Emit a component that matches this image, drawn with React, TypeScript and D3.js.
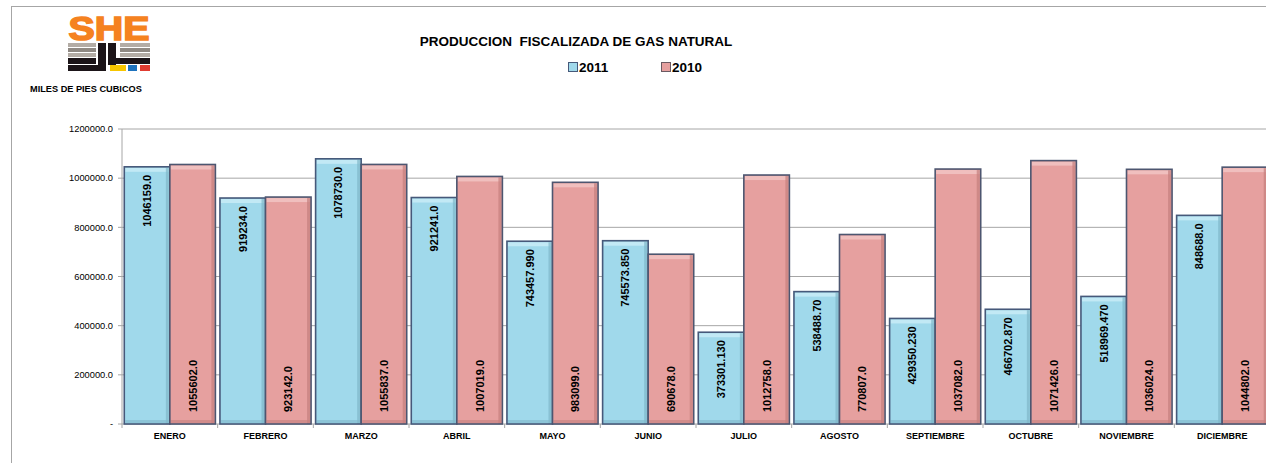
import React from "react";
import * as d3 from "d3";

const months = ["ENERO", "FEBRERO", "MARZO", "ABRIL", "MAYO", "JUNIO", "JULIO", "AGOSTO", "SEPTIEMBRE", "OCTUBRE", "NOVIEMBRE", "DICIEMBRE"];
const values2011 = [1046159.0, 919234.0, 1078730.0, 921241.0, 743457.99, 745573.85, 373301.13, 538488.7, 429350.23, 466702.87, 518969.47, 848688.0];
const labels2011 = ["1046159.0", "919234.0", "1078730.0", "921241.0", "743457.990", "745573.850", "373301.130", "538488.70", "429350.230", "466702.870", "518969.470", "848688.0"];
const values2010 = [1055602.0, 923142.0, 1055837.0, 1007019.0, 983099.0, 690678.0, 1012758.0, 770807.0, 1037082.0, 1071426.0, 1036024.0, 1044802.0];
const labels2010 = ["1055602.0", "923142.0", "1055837.0", "1007019.0", "983099.0", "690678.0", "1012758.0", "770807.0", "1037082.0", "1071426.0", "1036024.0", "1044802.0"];
const yTicks = [0, 200000, 400000, 600000, 800000, 1000000, 1200000];
const seriesNames = ["2011", "2010"];

const W = 1266;
const H = 463;
const FONT = "'Liberation Sans', Arial, sans-serif";

export default function App() {
  const x = d3.scaleBand<string>().domain(months).range([122, 1270]).paddingInner(0).paddingOuter(0);
  const inner = d3.scaleBand<string>().domain(seriesNames).range([0, x.bandwidth()]).paddingInner(0).paddingOuter(0.05);
  const y = d3.scaleLinear().domain([0, 1200000]).range([424, 129]);
  const bw = inner.bandwidth();

  const colors: Record<string, { fill: string; light: string; dark: string; stroke: string }> = {
    "2011": { fill: "#a0d9eb", light: "#c2e9f5", dark: "#7fb6c9", stroke: "#46597a" },
    "2010": { fill: "#e6a09f", light: "#f0bfbe", dark: "#c47f7e", stroke: "#4d5670" },
  };

  const bar = (key: string, i: number, v: number) => {
    const x0 = (x(months[i]) as number) + (inner(key) as number);
    const y0 = y(v);
    const h = y(0) - y0;
    const c = colors[key];
    return (
      <g key={key + i}>
        <rect x={x0} y={y0} width={bw} height={h} fill={c.fill} />
        <rect x={x0 + 1} y={y0 + 1} width={bw - 2} height={4} fill={c.light} />
        <rect x={x0 + bw - 4} y={y0 + 1} width={3} height={h - 1} fill={c.dark} opacity={0.7} />
        <rect x={x0 + 1} y={y(0) - 4} width={bw - 2} height={3} fill={c.dark} opacity={0.6} />
        <rect x={x0} y={y0} width={bw} height={h} fill="none" stroke={c.stroke} strokeWidth={1.6} />
      </g>
    );
  };

  return (
    <svg width={W} height={H} style={{ position: "absolute", left: 0, top: 0, background: "#fff" }} fontFamily={FONT}>
      <rect x={11.5} y={6.5} width={W + 20} height={H + 20} fill="none" stroke="#a6a6a6" strokeWidth={1} />

      {/* logo */}
      <g>
        <text x={68.5} y={40} fontSize={34} fontWeight="bold" fill="#f58220" stroke="#f58220" strokeWidth={1.6} textLength={81} lengthAdjust="spacingAndGlyphs">SHE</text>
        <rect x={68} y={43} width={28} height={4} fill="#b3aca5" />
        <rect x={68} y={48} width={28} height={4} fill="#8f8983" />
        <rect x={68} y={53} width={28} height={4} fill="#b3aca5" />
        <rect x={68} y={58} width={28} height={6} fill="#1b1418" />
        <rect x={68} y={65} width={36} height={6} fill="#1b1418" />
        <rect x={98} y={43} width={8} height={28} fill="#1b1418" />
        <rect x={108} y={43} width={8} height={22} fill="#1b1418" />
        <rect x={108} y={58} width={42} height={6} fill="#1b1418" />
        <rect x={120} y={43} width={30} height={4} fill="#b3aca5" />
        <rect x={120} y={48} width={30} height={4} fill="#8f8983" />
        <rect x={120} y={53} width={30} height={4} fill="#b3aca5" />
        <rect x={110} y={65} width={16} height={6} fill="#f7c600" />
        <rect x={128} y={65} width={9} height={6} fill="#1e73be" />
        <rect x={140} y={65} width={10} height={6} fill="#e03c31" />
      </g>

      <text x={30} y={92} fontSize={9.2} fontWeight="bold" fill="#000">MILES DE PIES CUBICOS</text>

      <text x={576} y={46} textAnchor="middle" fontSize={13.5} fontWeight="bold" fill="#000" style={{ whiteSpace: "pre" }}>PRODUCCION  FISCALIZADA DE GAS NATURAL</text>

      {/* legend */}
      <rect x={568.5} y={62.5} width={9} height={9} fill={colors["2011"].fill} stroke="#46597a" strokeWidth={1} />
      <text x={579} y={71.5} fontSize={13.5} fontWeight="bold">2011</text>
      <rect x={661.5} y={62.5} width={9} height={9} fill={colors["2010"].fill} stroke="#6b5a62" strokeWidth={1} />
      <text x={672} y={71.5} fontSize={13.5} fontWeight="bold">2010</text>

      {/* gridlines */}
      {yTicks.filter((t) => t > 0).map((t) => (
        <line key={"g" + t} x1={122} x2={1270} y1={y(t)} y2={y(t)} stroke="#a6a6a6" strokeWidth={1} />
      ))}
      {/* y axis */}
      <line x1={122} x2={122} y1={y(1200000)} y2={y(0)} stroke="#a6a6a6" />
      {yTicks.map((t) => (
        <g key={"t" + t}>
          <line x1={118} x2={122} y1={y(t)} y2={y(t)} stroke="#a6a6a6" />
          <text x={113} y={y(t) + 3.3} textAnchor="end" fontSize={9.3} fill="#000">{t === 0 ? "-" : d3.format(".1f")(t)}</text>
        </g>
      ))}
      {/* x axis */}
      <line x1={122} x2={1270} y1={y(0)} y2={y(0)} stroke="#a6a6a6" />
      {months.map((m) => (
        <line key={"xt" + m} x1={(x(m) as number)} x2={(x(m) as number)} y1={y(0)} y2={y(0) + 4} stroke="#a6a6a6" />
      ))}

      {/* bars */}
      {months.map((m, i) => (
        <g key={m}>
          {bar("2011", i, values2011[i])}
          {bar("2010", i, values2010[i])}
        </g>
      ))}

      {/* labels */}
      {months.map((m, i) => {
        const cx1 = (x(m) as number) + (inner("2011") as number) + bw / 2;
        const cx2 = (x(m) as number) + (inner("2010") as number) + bw / 2;
        const ty1 = y(values2011[i]) + 8;
        const ty2 = y(0) - 12;
        return (
          <g key={"l" + m}>
            <text transform={`translate(${cx1 + 4},${ty1}) rotate(-90)`} textAnchor="end" fontSize={11} fontWeight="bold" fill="#000">{labels2011[i]}</text>
            <text transform={`translate(${cx2 + 4},${ty2}) rotate(-90)`} textAnchor="start" fontSize={11} fontWeight="bold" fill="#000">{labels2010[i]}</text>
          </g>
        );
      })}

      {/* month labels */}
      {months.map((m) => (
        <text key={"ml" + m} x={(x(m) as number) + x.bandwidth() / 2} y={438.5} textAnchor="middle" fontSize={9} fontWeight="bold">{m}</text>
      ))}
    </svg>
  );
}
